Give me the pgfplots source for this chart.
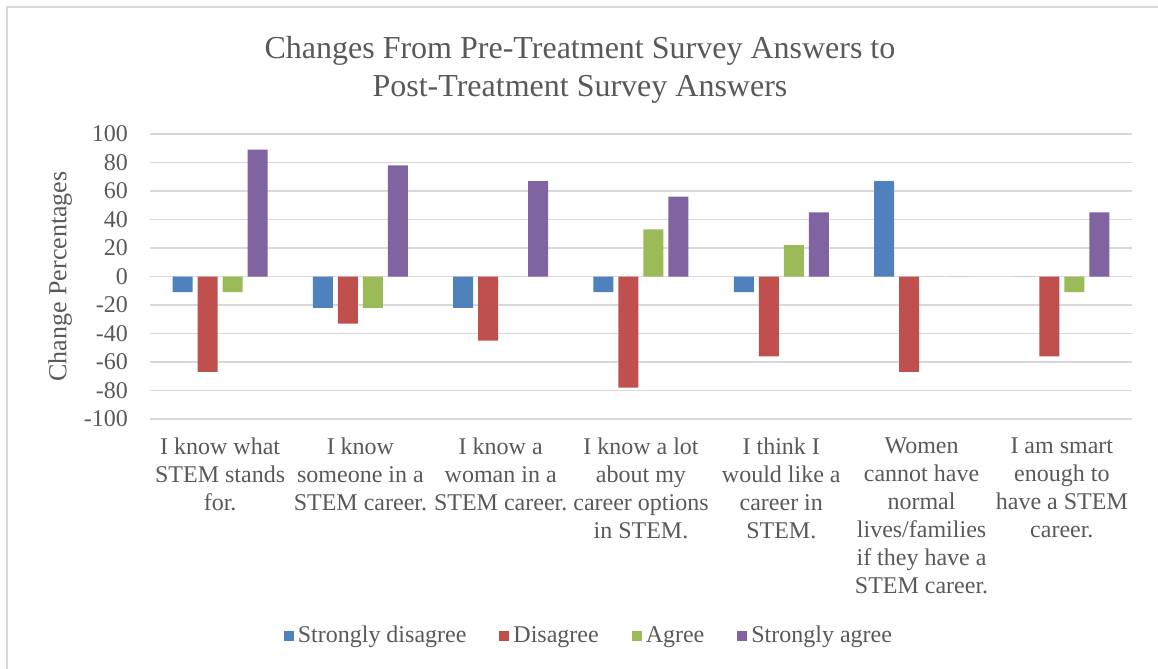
\documentclass[border=0pt]{standalone}
\usepackage{pgfplots}
\pgfplotsset{compat=1.18}
\usepackage{fontspec}
\setmainfont{Liberation Serif}
\definecolor{txt}{HTML}{595959}
\definecolor{gridc}{HTML}{D9D9D9}
\definecolor{cSD}{HTML}{4F81BD}
\definecolor{cD}{HTML}{C0504D}
\definecolor{cA}{HTML}{9BBB59}
\definecolor{cSA}{HTML}{8064A2}
\begin{document}
\begin{tikzpicture}
\useasboundingbox (-75pt,-125pt) rectangle (504pt,209.5pt);
\draw[gridc, line width=0.75pt] (-71.5pt,-125pt) -- (-71.5pt,206pt) -- (504pt,206pt);
\pgfplotsset{sq/.style={fill=#1, draw=none, legend image code/.code={\fill[#1] (0pt,-2.5pt) rectangle (5pt,2.5pt);}}}
\begin{axis}[
  at={(0,0)}, anchor=south west,
  scale only axis, width=491pt, height=142.5pt,
  ybar=2.5pt, bar width=10pt,
  xmin=-0.5, xmax=6.5, ymin=-100, ymax=100,
  ytick={-100,-80,...,100},
  xtick={0,...,6},
  xticklabels={{I know what\\STEM stands\\for.},{I know\\someone in a\\STEM career.},{I know a\\woman in a\\STEM career.},{I know a lot\\about my\\career options\\in STEM.},{I think I\\would like a\\career in\\STEM.},{Women\\cannot have\\normal\\lives/families\\if they have a\\STEM career.},{I am smart\\enough to\\have a STEM\\career.}},
  xticklabel style={align=center, font=\fontsize{12}{14}\selectfont, text=txt, anchor=north, yshift=-1.8pt},
  yticklabel style={font=\fontsize{12}{14}\selectfont, text=txt, xshift=-7.5pt},
  /pgf/number format/assume math mode=true,
  ymajorgrids, grid style={gridc, line width=0.75pt},
  axis line style={draw=none}, tick style={draw=none},
  ylabel={Change Percentages},
  every axis y label/.style={at={(axis description cs:-0.0916,0.5)}, rotate=90, anchor=center, font=\fontsize{13}{15}\selectfont, text=txt},
  legend columns=4,
  legend style={at={(axis description cs:0.448,-0.761)}, anchor=center, draw=none, fill=none, font=\fontsize{12}{14}\selectfont, text=txt, /tikz/every even column/.append style={column sep=14.5pt}},
]
\addplot[sq=cSD] coordinates {(0,-11) (1,-22) (2,-22) (3,-11) (4,-11) (5,67) (6,0)};
\addplot[sq=cD] coordinates {(0,-67) (1,-33) (2,-45) (3,-78) (4,-56) (5,-67) (6,-56)};
\addplot[sq=cA] coordinates {(0,-11) (1,-22) (2,0) (3,33) (4,22) (5,0) (6,-11)};
\addplot[sq=cSA] coordinates {(0,89) (1,78) (2,67) (3,56) (4,45) (5,0) (6,45)};
\legend{Strongly disagree,Disagree,Agree,Strongly agree}
\end{axis}
\node[anchor=base, font=\fontsize{16}{19}\selectfont, text=txt] at (215pt,180.25pt) {Changes From Pre-Treatment Survey Answers to};
\node[anchor=base, font=\fontsize{16}{19}\selectfont, text=txt] at (215pt,161.25pt) {Post-Treatment Survey Answers};
\end{tikzpicture}
\end{document}
